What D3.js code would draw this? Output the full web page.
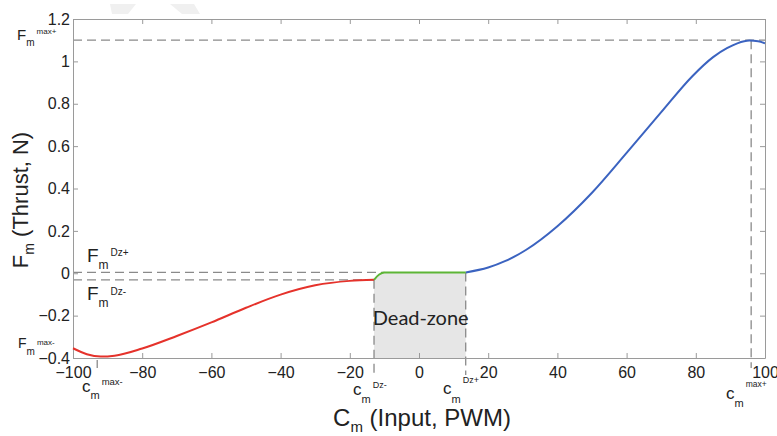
<!DOCTYPE html>
<html>
<head>
<meta charset="utf-8">
<script src="https://cdn.jsdelivr.net/npm/d3@7"></script>
<style>
  body { margin: 0; background: #fff; }
  svg text { font-family: "Liberation Sans", Arial, sans-serif; fill: #222; }
</style>
</head>
<body>
<div id="chart"></div>
<script>

// data
var xTicks = [-100, -80, -60, -40, -20, 0, 20, 40, 60, 80, 100];
var yTicks = [-0.4, -0.2, 0, 0.2, 0.4, 0.6, 0.8, 1, 1.2];

var negX = [-100, -96, -92, -88, -80, -70, -60, -50, -40, -30, -20, -13];
var negY = [-0.354, -0.382, -0.393, -0.389, -0.355, -0.296, -0.232, -0.163, -0.101, -0.057, -0.036, -0.031];

var dzX = [-13, -11.5, -10, 13.5];
var dzY = [-0.031, -0.006, 0.004, 0.004];

var posX = [13.5, 20, 25, 31, 40, 50, 60, 70, 79, 85, 89, 92, 95.5, 98, 100];
var posY = [0.004, 0.027, 0.058, 0.111, 0.222, 0.38, 0.568, 0.76, 0.93, 1.02, 1.062, 1.085, 1.098, 1.095, 1.085];

// key levels
var cMaxNeg = -93, cDzNeg = -13, cDzPos = 13.5, cMaxPos = 96;
var fMaxPos = 1.1, fDzPos = 0.004, fDzNeg = -0.031;

var margin = {top: 19, right: 12, bottom: 78, left: 73};
var width = 777 - margin.left - margin.right,
    height = 436 - margin.top - margin.bottom;

var svg = d3.select("#chart").append("svg")
    .attr("width", 777)
    .attr("height", 436);

// faint watermark marks at the top
svg.append("path").attr("d", "M110,4 L136,4 L128,14 L112,14 Z").attr("fill", "#f0f0f0");
svg.append("path").attr("d", "M170,4 L194,4 L200,14 L182,14 Z").attr("fill", "#f0f0f0");

var g = svg.append("g")
    .attr("transform", "translate(" + margin.left + "," + margin.top + ")");

var x = d3.scaleLinear().domain([-100, 100]).range([0, width]);
var y = d3.scaleLinear().domain([-0.4, 1.2]).range([height, 0]);

var axisGrey = "#9a9a9a";
var dashGrey = "#8a8a8a";

// dead-zone shading
var dzPts = dzX.map(function (d, i) { return [d, dzY[i]]; });
g.append("path")
    .datum(dzPts)
    .attr("fill", "#e6e6e6")
    .attr("d", d3.area()
        .x(function (d) { return x(d[0]); })
        .y0(y(-0.4))
        .y1(function (d) { return y(d[1]); }));

// dashed guides
function dash(x1, y1, x2, y2) {
    g.append("line")
        .attr("x1", x1).attr("y1", y1).attr("x2", x2).attr("y2", y2)
        .attr("stroke", dashGrey)
        .attr("stroke-width", 1.3)
        .attr("stroke-dasharray", "9,5");
}
dash(0, y(fMaxPos), width, y(fMaxPos));
dash(x(cMaxPos), y(fMaxPos), x(cMaxPos), height + 10);
dash(0, y(fDzPos), x(-10), y(fDzPos));
dash(0, y(fDzNeg), x(cDzNeg), y(fDzNeg));
dash(x(cDzNeg), y(fDzNeg), x(cDzNeg), height + 17);
dash(x(cDzPos), y(fDzPos), x(cDzPos), height + 17);
dash(x(cMaxNeg), height + 2, x(cMaxNeg), height + 10);

// axes box, MATLAB style ticks pointing in
function styleAxis(sel) {
    sel.select(".domain").attr("stroke", axisGrey);
    sel.selectAll(".tick line").attr("stroke", axisGrey);
    sel.selectAll("text")
        .style("font-family", "Liberation Sans, Arial, sans-serif")
        .style("font-size", "16px")
        .attr("fill", "#222");
}
var fmt = function (d) { return d3.format("")(d).replace("-", "\u2212"); };

g.append("g")
    .attr("transform", "translate(0," + height + ")")
    .call(d3.axisBottom(x).tickValues(xTicks).tickSizeInner(-5).tickSizeOuter(0)
        .tickPadding(9).tickFormat(fmt))
    .call(styleAxis);
g.append("g")
    .call(d3.axisTop(x).tickValues(xTicks).tickSizeInner(-5).tickSizeOuter(0).tickFormat(""))
    .call(styleAxis);
g.append("g")
    .call(d3.axisLeft(y).tickValues(yTicks).tickSizeInner(-5).tickSizeOuter(0)
        .tickPadding(3).tickFormat(fmt))
    .call(styleAxis);
g.append("g")
    .attr("transform", "translate(" + width + ",0)")
    .call(d3.axisRight(y).tickValues(yTicks).tickSizeInner(-5).tickSizeOuter(0).tickFormat(""))
    .call(styleAxis);

// curves
var line = d3.line()
    .x(function (d) { return x(d[0]); })
    .y(function (d) { return y(d[1]); })
    .curve(d3.curveMonotoneX);

function curve(xs, ys, colour) {
    g.append("path")
        .datum(xs.map(function (d, i) { return [d, ys[i]]; }))
        .attr("fill", "none")
        .attr("stroke", colour)
        .attr("stroke-width", 2)
        .attr("d", line);
}
curve(negX, negY, "#e5322b");
curve(posX, posY, "#3b63c0");
curve(dzX, dzY, "#5db536");

g.append("text")
    .attr("x", x(0.5))
    .attr("y", 306)
    .attr("text-anchor", "middle")
    .style("font-family", "Lato, sans-serif")
    .style("font-size", "20px")
    .attr("fill", "#333")
    .text("Dead-zone");

// annotation labels: base letter, subscript, superscript
function label(xp, yp, base, sub, sup, sizes, offs) {
    var t = svg.append("text").attr("x", xp).attr("y", yp);
    t.append("tspan").style("font-size", sizes[0] + "px").text(base);
    t.append("tspan").style("font-size", sizes[1] + "px").attr("dy", offs[0]).text(sub);
    t.append("tspan").style("font-size", sizes[2] + "px").attr("dx", 2).attr("dy", offs[1]).text(sup);
}
label(17, 40, "F", "m", "max+", [15, 10, 8], [6, -12]);
label(87, 262, "F", "m", "Dz+", [19, 12, 10], [7, -13]);
label(87, 300, "F", "m", "Dz-", [19, 12, 10], [7, -12]);
label(18, 348, "F", "m", "max-", [14, 10, 8], [7, -10]);
label(82, 392, "c", "m", "max-", [17, 11, 9.5], [7, -14]);
label(353, 395, "c", "m", "Dz-", [17, 11, 9], [8, -15]);
label(443, 394, "c", "m", "Dz+", [17, 11, 9], [9, -20]);
label(726, 399, "c", "m", "max+", [17, 11, 8.5], [8, -20]);

// axis titles
var xt = svg.append("text")
    .attr("x", 422).attr("y", 426)
    .attr("text-anchor", "middle")
    .style("font-size", "24px");
xt.append("tspan").text("C");
xt.append("tspan").style("font-size", "15px").attr("dy", 6).text("m");
xt.append("tspan").attr("dy", -6).text(" (Input, PWM)");

var yt = svg.append("text")
    .attr("transform", "translate(28,200) rotate(-90)")
    .attr("text-anchor", "middle")
    .style("font-size", "22px");
yt.append("tspan").text("F");
yt.append("tspan").style("font-size", "14px").attr("dy", 6).text("m");
yt.append("tspan").attr("dy", -6).text(" (Thrust, N)");

</script>
</body>
</html>
